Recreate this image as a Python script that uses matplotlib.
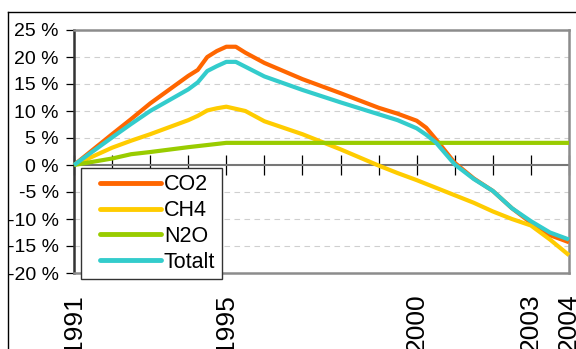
import matplotlib
matplotlib.use("Agg")
import matplotlib.pyplot as plt
from matplotlib.lines import Line2D

plt.rcParams['font.family'] = ['Liberation Sans', 'DejaVu Sans']

# Emission change relative to 1991 (%)
years = [1991, 1992, 1992.5, 1993, 1994, 1994.25, 1994.5, 1994.75, 1995, 1995.25,
         1995.5, 1996, 1997, 1998, 1999, 1999.5, 2000, 2000.25, 2000.5, 2001,
         2001.5, 2002, 2002.5, 2003, 2003.5, 2004]
co2 = [0, 5.7, 8.5, 11.4, 16.5, 17.6, 20.0, 21.1, 21.9, 21.9,
       20.8, 18.9, 15.9, 13.3, 10.6, 9.5, 8.2, 6.9, 4.8, 0.4,
       -2.5, -4.8, -8.0, -10.7, -13.0, -14.3]
ch4 = [0, 3.2, 4.5, 5.7, 8.3, 9.1, 10.1, 10.5, 10.8, 10.4,
       10.0, 8.1, 5.7, 2.9, -0.1, -1.5, -2.8, -3.5, -4.2, -5.6,
       -7.0, -8.6, -10.0, -11.2, -13.8, -16.7]
n2o = [0, 1.2, 2.0, 2.4, 3.3, 3.5, 3.7, 3.9, 4.1, 4.1,
       4.1, 4.1, 4.1, 4.1, 4.1, 4.1, 4.1, 4.1, 4.1, 4.1,
       4.1, 4.1, 4.1, 4.1, 4.1, 4.1]
totalt = [0, 5.1, 7.6, 10.0, 14.0, 15.3, 17.4, 18.3, 19.1, 19.1,
          18.2, 16.4, 13.9, 11.6, 9.4, 8.3, 6.8, 5.6, 4.2, 0.1,
          -2.6, -4.8, -8.0, -10.4, -12.5, -13.8]

series_names = ['CO2', 'CH4', 'N2O', 'Totalt']
series_colors = ['#FF6600', '#FFCC00', '#99CC00', '#33CCCC']

year_ticks = list(range(1991, 2005))
year_labels = [1991, 1995, 2000, 2003, 2004]
y_ticks = [-20, -15, -10, -5, 0, 5, 10, 15, 20, 25]

W, H = 576, 349
fig = plt.figure(figsize=(W / 100, H / 100), dpi=100)

# chart frame
fy = 1 - 12 / H
fx = 8 / W
fig.add_artist(Line2D([fx, fx], [0, fy], transform=fig.transFigure, color='black', lw=1.0))
fig.add_artist(Line2D([fx, 1], [fy, fy], transform=fig.transFigure, color='black', lw=1.0))

left, right, top, bottom = 74, 569, 30, 273
ax = fig.add_axes([left / W, 1 - bottom / H, (right - left) / W, (bottom - top) / H])

ymin, ymax = -20, 25
ax.set_xlim(1991, 2004)
ax.set_ylim(ymin, ymax)

for name, vals, col in zip(series_names, [co2, ch4, n2o, totalt], series_colors):
    ax.plot(years, vals, color=col, lw=3.0, label=name, solid_joinstyle='round',
            solid_capstyle='butt', clip_on=False, zorder=3)

# gridlines
for v in y_ticks:
    if v not in (0, ymax, ymin):
        ax.axhline(v, color='#CFCFCF', lw=0.8, ls=(0, (5, 4)), zorder=1)

# y axis
ax.set_yticks(y_ticks)
ax.set_yticklabels([f"{v} %" for v in y_ticks])
ax.tick_params(axis='y', direction='out', length=6, width=0.9, color='black',
               labelsize=14, pad=5)

# x labels under the plot area
ax.set_xticks(year_labels)
ax.set_xticklabels([str(y) for y in year_labels], rotation=90, va='top', ha='center')
ax.tick_params(axis='x', length=0, labelsize=19, pad=15)

for s in ['top', 'right', 'bottom']:
    ax.spines[s].set_color('#8C8C8C')
    ax.spines[s].set_linewidth(1.8)
ax.spines['left'].set_color('#333333')
ax.spines['left'].set_linewidth(1.8)

# category axis crossing at zero
zero_frac = (0 - ymin) / (ymax - ymin)
sec = ax.secondary_xaxis(zero_frac)
sec.set_xticks(year_ticks)
sec.tick_params(axis='x', direction='inout', length=14, width=0.9, color='black',
                labelbottom=False)
sec.spines['bottom'].set_color('#777777')
sec.spines['bottom'].set_linewidth(1.5)

leg = ax.legend(loc='upper left', bbox_to_anchor=(81 / W, 1 - 168 / H),
                bbox_transform=fig.transFigure, borderaxespad=0, fontsize=15.5,
                frameon=True, fancybox=False, edgecolor='#333333', framealpha=1,
                handlelength=3.4, handletextpad=0.15, labelspacing=0.22,
                borderpad=0.3)
leg.get_frame().set_linewidth(1.0)
for line in leg.get_lines():
    line.set_linewidth(3.5)
    line.set_solid_capstyle('round')
    xd = list(line.get_xdata())
    span = xd[-1] - xd[0]
    line.set_xdata([xd[0] + 0.17 * span, xd[-1]])
    line.set_ydata([line.get_ydata()[0]] * 2)
leg.set_zorder(10)

fig.savefig('out.png', dpi=100)
